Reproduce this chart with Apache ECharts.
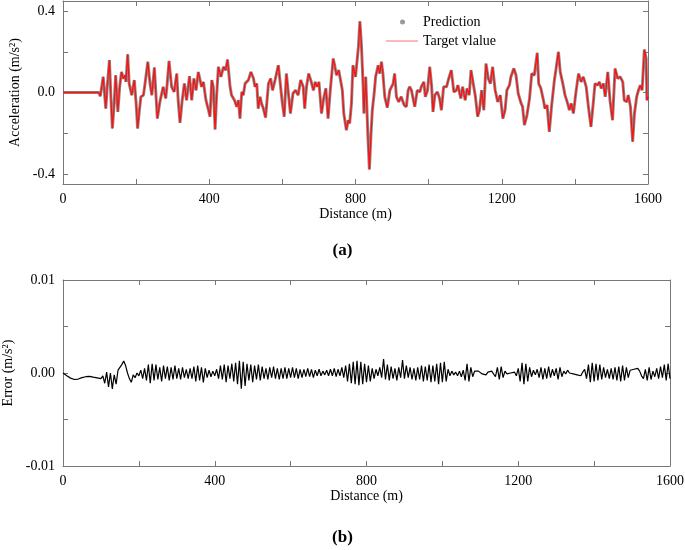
<!DOCTYPE html>
<html><head><meta charset="utf-8">
<script src="https://cdn.jsdelivr.net/npm/echarts@6/dist/echarts.min.js"></script>
<style>html,body{margin:0;padding:0;background:#fff}#c{width:685px;height:550px}</style>
</head><body><div id="c"></div>
<script>
// ---- (a) acceleration: distance (m) and value (m/s^2) ----
var accDist = [0,98,99,102,106,110,117,121,127,131,135,140,144,150,155,160,165,170,172,177,181,188,195,200,204,209,213,220,225,232,238,243,250,254,258,265,274,281,285,290,297,304,311,315,320,326,332,338,346,352,358,364,370,379,384,391,398,402,407,411,416,420,425,432,439,445,450,457,461,469,475,480,484,489,493,498,507,514,521,525,530,534,539,543,548,554,562,568,573,580,589,
599,605,611,616,622,629,636,643,650,657,661,666,672,679,685,690,695,700,707,713,719,725,731,739,743,748,754,760,764,768,775,780,784,789,793,800,804,808,812,816,821,823,828,831,834,838,842,846,851,855,862,866,871,875,880,887,894,903,907,912,918,925,933,939,944,948,953,957,962,969,976,980,987,991,997,1003,1008,1012,1017,1024,1030,1035,1041,1049,1055,1062,1069,1076,1080,1088,
1093,1100,1105,1111,1116,1122,1128,1134,1139,1145,1151,1157,1163,1169,1175,1182,1189,1196,1203,1209,1214,1221,1225,1233,1239,1245,1253,1257,1262,1269,1276,1282,1289,1297,1301,1307,1314,1318,1324,1330,1337,1344,1348,1355,1360,1367,1373,1379,1385,1390,1396,1403,1410,1417,1423,1431,1437,1444,1451,1455,1462,1467,1472,1478,1483,1490,1496,1503,1510,1517,1524,1531,1535,1542,1546,1552,1558,1563,1569,1574,1579,1584,1590,1595,1597,1600];
var accVal = [0,0,0.003,-0.018,-0.013,0.077,-0.079,0.028,0.159,-0.021,-0.177,-0.054,0.085,-0.095,0.028,0.101,0.069,0.085,0.052,0.188,0.044,-0.013,0.061,-0.054,-0.177,-0.087,-0.021,-0.013,0.052,0.151,0.044,-0.013,0.123,-0.005,-0.128,-0.046,0.028,-0.029,0.044,0.155,0.028,0.003,0.093,-0.038,-0.149,-0.038,0.044,-0.038,0.080,-0.038,0.069,0.011,0.101,0.028,0.052,-0.038,-0.087,-0.119,0.061,0.028,-0.182,-0.021,0.126,0.077,0.126,0.110,0.162,0.028,-0.013,-0.038,-0.070,-0.038,-0.128,0.003,-0.013,0.044,0.061,0.101,0.069,0.028,0.044,-0.079,-0.021,-0.054,-0.079,-0.123,0.044,0.069,0.011,0.061,0.134,
-0.038,-0.119,0.093,0.003,-0.103,-0.005,0.011,-0.013,0.061,0.028,-0.079,0.028,0.093,0.052,0.011,0.052,0.028,0.052,-0.103,-0.029,0.020,-0.128,0.011,0.167,0.134,0.085,0.110,0.052,0.011,-0.103,-0.185,-0.136,-0.152,-0.054,0.134,0.077,0.077,0.224,0.350,0.241,0.028,-0.103,0.077,0.077,-0.218,-0.378,-0.218,-0.087,-0.005,0.077,0.134,0.093,0.151,0.093,-0.021,-0.074,0.011,0.044,0.093,-0.021,-0.046,-0.021,-0.062,-0.070,0.011,0.028,0.011,0.020,-0.070,0.011,0.003,0.028,0.052,-0.021,0.011,0.126,0.036,-0.095,-0.013,0.003,-0.029,-0.087,0.028,0.028,0.069,0.110,0.003,0.011,0.036,-0.029,
0.028,-0.038,0.020,-0.013,0.110,0.044,-0.021,-0.119,-0.087,0.011,-0.087,0.142,0.069,0.044,0.126,0.011,-0.046,-0.013,-0.128,-0.087,0.011,0.036,0.077,0.118,0.085,-0.005,-0.054,-0.070,-0.160,-0.111,-0.029,0.093,0.085,0.195,0.044,0.020,-0.038,-0.079,-0.062,-0.193,-0.054,0.061,0.110,0.200,0.101,0.044,-0.013,-0.046,-0.087,-0.054,-0.103,0.003,0.093,0.052,0.077,0.028,-0.070,-0.169,-0.038,0.044,0.036,0.052,0.020,0.044,-0.021,0.101,-0.038,-0.136,0.118,0.069,0.077,0.052,-0.038,-0.046,-0.013,-0.070,-0.242,-0.103,-0.021,0.011,0.036,0.011,0.211,0.167,-0.038,-0.020];

// ---- (b) error, sampled every 5 m from 0 to 1600 m, values in 1e-4 m/s^2 ----
var errStep = 5;
var errUnit = 1e-4;
var errVals = [0,-1,-3,-4,-5.5,-6.5,-7,-7,-6.5,-6,-5,-4.5,-4,-3.7,-3.6,-4,-4.5,-5,-5.2,-5.5,-6,
-3,-11,1,-15,0,-17,-2,-12,3,1,9,13,8,0,-6,-10,-2,-5,0,-3,
3,-6,5,-8,9,-11,10,-8,9,-7,6,-9,8,-6,7,-8,6,-7,8,-6,
5,-7,6,-5,4,-6,5,-6,7,-9,8,-8,6,-10,5,-5,3,-4,2,-3,
4,-6,8,-7,9,-10,8,-6,10,-9,11,-12,13,-17,12,-14,10,-8,9,-10,
8,-7,9,-8,7,-6,5,-7,6,-5,7,-6,5,-7,5,-6,6,-6,5,-5,
6,-5,5,-6,4,-5,4,-4,5,-4,4,-5,3,-3,4,-3,2,-2,3,-3,
4,-3,5,-4,4,-3,6,-5,8,-9,10,-11,12,-12,13,-13,12,-12,10,-10,
8,-9,5,-6,4,-3,6,-5,15,-7,9,-8,7,-6,5,-8,6,-5,14,-6,
8,-5,6,-7,5,-8,6,-7,8,-9,7,-8,9,-10,8,-9,10,-12,11,-10,
12,-9,4,-3,2,-2,1,-3,2,-4,3,-8,10,-9,6,-4,2,1,2,1,
-1,-3,-2,1,0,2,3,-4,6,-7,7,-5,2,-1,-2,0,-2,1,-3,5,
-9,11,-12,10,-9,6,-4,3,-2,4,-5,6,-7,5,-6,7,-5,4,-3,5,
-7,6,-4,2,-1,3,0,2,-1,0,-2,-1,-3,1,4,-6,9,-10,11,-9,
10,-8,9,-7,6,-5,4,-6,5,-7,6,-8,7,-9,8,-8,6,-5,3,1,
4,3,5,2,-3,-6,4,-8,6,-7,2,-4,5,-6,7,-5,9,-8,10,-6];

var xTicks = [0,400,800,1200,1600];
var accTicks = [-0.4,-0.2,0,0.2,0.4];
var accLabels = [-0.4,0,0.4];
var errLabels = [-0.01,0,0.01];

var accData = accDist.map(function(d,i){return [d, accVal[i]];});
var errData = errVals.map(function(v,i){return [i*errStep, v*errUnit];});

var FONT = 'Liberation Serif';
var AX = '#777';
function xBottom(grid){
  return {type:'value', gridIndex:grid, min:0, max:1600, interval:200, position:'bottom',
    axisLine:{onZero:false, lineStyle:{color:AX}}, splitLine:{show:false},
    axisTick:{inside:true, length:5, lineStyle:{color:AX}},
    axisLabel:{color:'#000', fontFamily:FONT, fontSize:14, margin:8,
      formatter:function(v){return xTicks.indexOf(v)>=0 ? String(v) : '';}},
    name:'Distance (m)', nameLocation:'middle', nameGap:22,
    nameTextStyle:{color:'#000', fontFamily:FONT, fontSize:14}};
}
function xTop(grid){
  return {type:'value', gridIndex:grid, min:0, max:1600, interval:200, position:'top',
    axisLine:{onZero:false, lineStyle:{color:AX}}, splitLine:{show:false},
    axisTick:{inside:true, length:5, lineStyle:{color:AX}}, axisLabel:{show:false}};
}
function yAx(grid, pos, min, max, extra){
  var o = {type:'value', gridIndex:grid, min:min, max:max, position:pos,
    axisLine:{show:true, onZero:false, lineStyle:{color:AX}}, splitLine:{show:false},
    axisTick:{show:true, inside:true, length:5, lineStyle:{color:AX}},
    axisLabel:{show:false}};
  for (var k in extra) o[k] = extra[k];
  return o;
}
var chart = echarts.init(document.getElementById('c'), null, {renderer:'canvas'});
chart.setOption({
  animation:false,
  backgroundColor:'#fff',
  grid:[{left:63, right:37, top:1, height:183, outerBoundsMode:'none'},
        {left:63, right:15, top:280, height:186, outerBoundsMode:'none'}],
  xAxis:[xBottom(0), xTop(0), xBottom(1), xTop(1)],
  yAxis:[
    yAx(0,'left',-0.45,0.45,{
      axisTick:{show:true, inside:true, length:5, customValues:accTicks, lineStyle:{color:AX}},
      axisLabel:{customValues:accLabels, color:'#000', fontFamily:FONT, fontSize:14, margin:8,
        formatter:function(v){return v.toFixed(1);}},
      name:'Acceleration (m/s²)', nameLocation:'middle', nameGap:27,
      nameTextStyle:{color:'#000', fontFamily:FONT, fontSize:14}}),
    yAx(0,'right',-0.45,0.45,{
      axisTick:{show:true, inside:true, length:5, customValues:accTicks, lineStyle:{color:AX}}}),
    yAx(1,'left',-0.01,0.01,{interval:0.005,
      axisLabel:{customValues:errLabels, color:'#000', fontFamily:FONT, fontSize:14, margin:8,
        formatter:function(v){return Math.abs(v)<1e-9 ? '0.00' : v.toFixed(2);}},
      name:'Error (m/s²)', nameLocation:'middle', nameGap:38,
      nameTextStyle:{color:'#000', fontFamily:FONT, fontSize:14}}),
    yAx(1,'right',-0.01,0.01,{interval:0.005})
  ],
  legend:[
    {data:[{name:'Prediction', icon:'circle', itemStyle:{color:'#999'}}], left:395, top:10, itemWidth:5, itemHeight:5,
      textStyle:{color:'#000', fontFamily:FONT, fontSize:14, padding:[0,0,0,13]}},
    {data:[{name:'Target vlalue', icon:'path://M0,0H32V1.4H0Z', itemStyle:{color:'#ff9a9a'}}],
      left:381, top:29, itemWidth:32, itemHeight:14,
      textStyle:{color:'#000', fontFamily:FONT, fontSize:14}}
  ],
  series:[
    {name:'Prediction', type:'line', xAxisIndex:0, yAxisIndex:0, data:accData,
      showSymbol:false, symbol:'circle', itemStyle:{color:'#999'},
      lineStyle:{color:'rgba(110,110,110,0.8)', width:3}, z:2},
    {name:'Target vlalue', type:'line', xAxisIndex:0, yAxisIndex:0, data:accData,
      symbol:'none', showSymbol:false, itemStyle:{color:'#ff9a9a'},
      lineStyle:{color:'#ff1010', width:1.3}, z:3},
    {name:'Error', type:'line', xAxisIndex:2, yAxisIndex:2, data:errData,
      symbol:'none', showSymbol:false, lineStyle:{color:'#000', width:1.2}, z:3}
  ],
  graphic:[
    {type:'text', left:'center', top:242, style:{text:'(a)', font:'bold 17px "Liberation Serif"', fill:'#000'}},
    {type:'text', left:'center', top:529, style:{text:'(b)', font:'bold 17px "Liberation Serif"', fill:'#000'}}
  ]
});
</script></body></html>
